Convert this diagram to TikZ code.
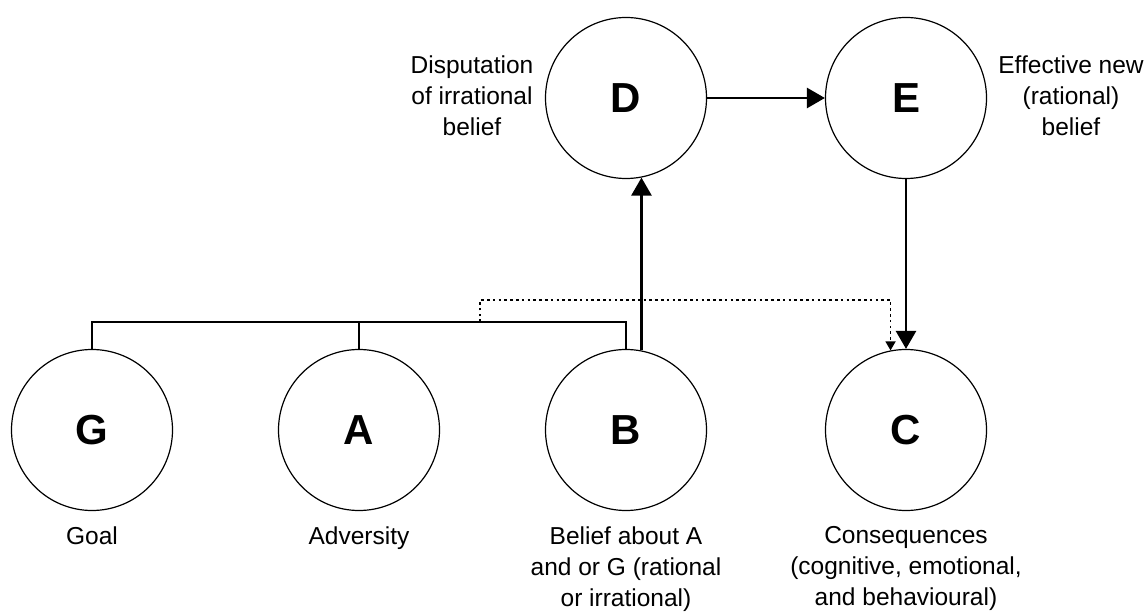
\documentclass[tikz,border=0pt]{standalone}
\usepackage{fontspec}
\setmainfont{Liberation Sans}
\usetikzlibrary{arrows.meta}
\begin{document}
\begin{tikzpicture}[x=1pt,y=-1pt,
  state/.style={draw, circle, line width=1.2pt, minimum size=161pt, inner sep=0pt, font=\fontsize{42}{42}\selectfont\bfseries},
  lbl/.style={align=center, inner sep=0pt, anchor=north, font=\fontsize{24.5}{31}\selectfont},
  link/.style={line width=1.4pt},
  flow/.style={line width=2.7pt, -{Triangle[length=18pt,width=20pt]}},
  hint/.style={line width=1.6pt, dash pattern=on 2.6pt off 3.2pt, -{Triangle[length=9pt,width=10pt]}}
]
\useasboundingbox (0,0) rectangle (1146,612);
\node[state] (G) at (92,430) {G};
\node[state] (A) at (359,430) {A};
\node[state] (B) at (626,430) {B};
\node[state] (C) at (906,430) {C};
\node[state] (D) at (626,98) {D};
\node[state] (E) at (906,98) {E};

\node[lbl] (lg) at (92,526.5) {Goal};
\node[lbl] (la) at (359,526.5) {Adversity};
\node[lbl] (lb) at (626,526.5) {Belief about A\\and or G (rational\\or irrational)};
\node[lbl] (lc) at (906,526.5) {Consequences\\(cognitive, emotional,\\and behavioural)};
\node[lbl] (ld) at (472,56) {Disputation\\of irrational\\belief};
\node[lbl] (le) at (1071,56) {Effective new\\(rational)\\belief};

\coordinate (bar) at (0,322);
\coordinate (split) at (480,322);
\coordinate (over) at (0,300);

\draw[link] (G.north) -- (G.north |- bar) -- (B.north |- bar) -- (B.north);
\draw[link] (A.north) -- (A.north |- bar);
\draw[hint] (split) -- (split |- over) -- (C.101 |- over) -- (C.101);
\draw[flow] (B.79) -- (D.-79);
\draw[flow] (D.east) -- (E.west);
\draw[flow] (E.south) -- (C.north);
\end{tikzpicture}
\end{document}
